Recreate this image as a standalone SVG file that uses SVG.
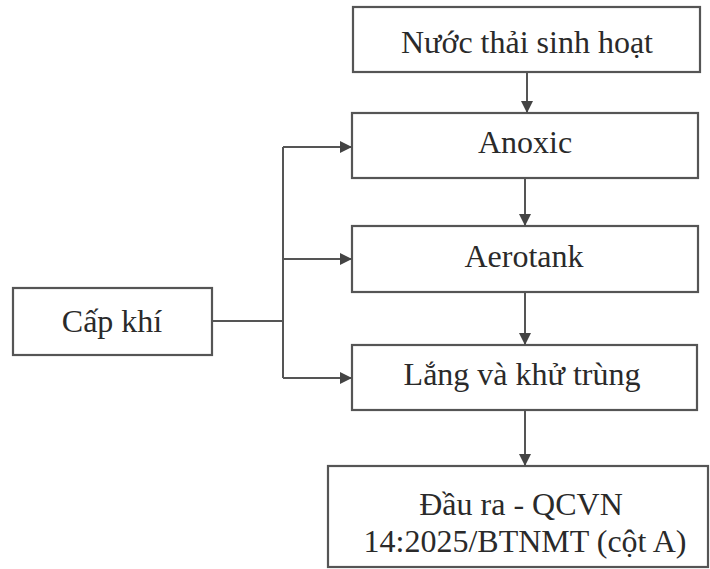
<svg xmlns="http://www.w3.org/2000/svg" width="710" height="569" viewBox="0 0 710 569">
<style>
.box{fill:#fff;stroke:#555;stroke-width:2.2}
.t{font-family:"Liberation Serif","Times New Roman",serif;font-size:32px;fill:#2a2a2a;text-anchor:middle}
.c{fill:none;stroke:#555;stroke-width:2}
</style>
<defs>
<marker id="ah" viewBox="0 0 12 12" refX="12" refY="6" markerWidth="12" markerHeight="12" markerUnits="userSpaceOnUse" orient="auto">
<path d="M0,0 L12,6 L0,12 Z" fill="#444"/>
</marker>
</defs>
<rect width="710" height="569" fill="#fff"/>
<g id="n1"><rect class="box" x="353" y="7" width="347" height="65"/><text class="t" x="527" y="53">Nước thải sinh hoạt</text></g>
<g id="n2"><rect class="box" x="352" y="113" width="346" height="65"/><text class="t" x="525" y="153">Anoxic</text></g>
<g id="n3"><rect class="box" x="352" y="226" width="346" height="66"/><text class="t" x="524" y="267">Aerotank</text></g>
<g id="n4"><rect class="box" x="13" y="288" width="199" height="67"/><text class="t" x="112" y="332">Cấp khí</text></g>
<g id="n5"><rect class="box" x="352" y="345" width="345" height="65"/><text class="t" x="522" y="385">Lắng và khử trùng</text></g>
<g id="n6"><rect class="box" x="328" y="466" width="380" height="101"/><text class="t" x="521" y="515">Đầu ra - QCVN</text><text class="t" x="525" y="552">14:2025/BTNMT (cột A)</text></g>
<g id="connectors">
<path class="c" d="M527,72 V113" marker-end="url(#ah)"/>
<path class="c" d="M525,178 V226" marker-end="url(#ah)"/>
<path class="c" d="M525,292 V345" marker-end="url(#ah)"/>
<path class="c" d="M525,410 V466" marker-end="url(#ah)"/>
<path class="c" d="M212,321 H283"/>
<path class="c" d="M283,147 V378"/>
<path class="c" d="M283,147 H352" marker-end="url(#ah)"/>
<path class="c" d="M283,259 H352" marker-end="url(#ah)"/>
<path class="c" d="M283,378 H352" marker-end="url(#ah)"/>
</g>
</svg>
